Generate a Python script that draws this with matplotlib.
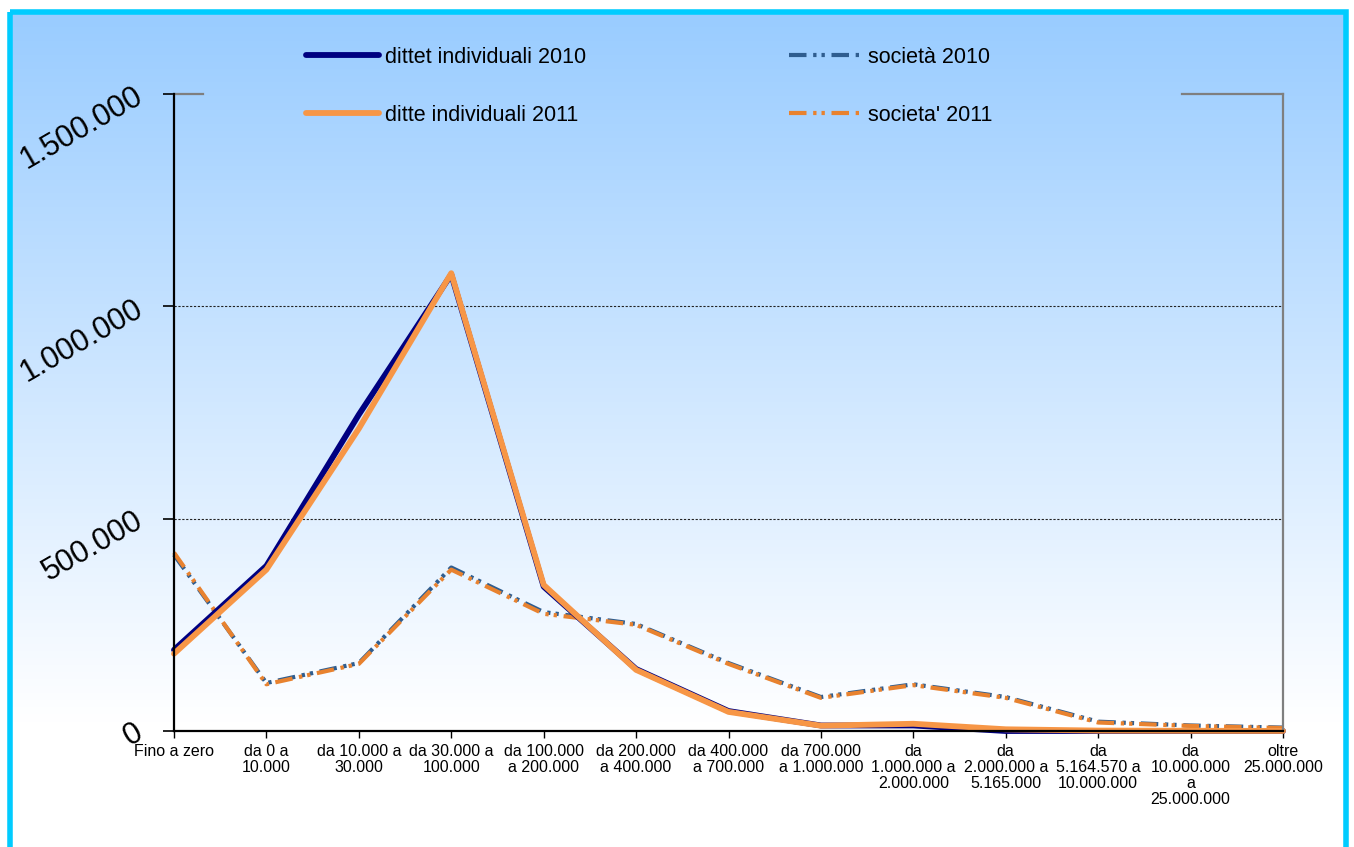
import numpy as np
import matplotlib
matplotlib.use("Agg")
import matplotlib.pyplot as plt
from matplotlib.patches import Rectangle
from matplotlib.ticker import FuncFormatter

plt.rcParams["font.family"] = ["Liberation Sans", "DejaVu Sans"]

W, H = 1354, 847

categories = [
    "Fino a zero",
    "da 0 a\n10.000",
    "da 10.000 a\n30.000",
    "da 30.000 a\n100.000",
    "da 100.000\na 200.000",
    "da 200.000\na 400.000",
    "da 400.000\na 700.000",
    "da 700.000\na 1.000.000",
    "da\n1.000.000 a\n2.000.000",
    "da\n2.000.000 a\n5.165.000",
    "da\n5.164.570 a\n10.000.000",
    "da\n10.000.000\na\n25.000.000",
    "oltre\n25.000.000",
]

ditte_2010 = [191000, 389000, 745000, 1075000, 340000, 146000, 47000,
              13000, 13000, 0, 0, 0, 0]
ditte_2011 = [182000, 380000, 712000, 1078000, 344000, 144000, 45000,
              12500, 17000, 4000, 1000, 500, 200]
societa_2010 = [415000, 113000, 160000, 385000, 280000, 252000, 160000,
                80000, 110000, 80000, 22000, 13000, 8000]
societa_2011 = [420000, 110000, 158000, 380000, 276000, 250000, 158000,
                78000, 108000, 78000, 20000, 12000, 7000]

y_ticks = [0, 500000, 1000000, 1500000]

fig = plt.figure(figsize=(W / 100, H / 100), dpi=100, facecolor="white")

# background: blue-to-white vertical gradient inside a cyan frame
bg = fig.add_axes([0, 0, 1, 1], zorder=-1)
bg.set_xlim(0, W)
bg.set_ylim(H, 0)
bg.axis("off")
top_col = np.array([153, 204, 255]) / 255
bot_col = np.array([255, 255, 255]) / 255
t = np.clip(np.linspace(0, 1, 400) / 0.82, 0, 1)[:, None]
grad = (top_col * (1 - t) + bot_col * t)[:, None, :]
bg.imshow(grad, extent=(9.5, W - 8.5, H + 30, 12.5), aspect="auto",
          interpolation="bilinear")
bg.add_patch(Rectangle((9.5, 12.5), W - 18, H + 40, fill=False,
                       edgecolor="#00CCFF", lw=4))

x0, x1, y_top, y_bot = 174, 1283, 94, 731
ax = fig.add_axes([x0 / W, 1 - y_bot / H, (x1 - x0) / W, (y_bot - y_top) / H])
ax.set_facecolor("none")

x = np.arange(len(categories))

dash_pat = (4.2, 1.6, 0.8, 1.2, 0.8, 1.6)
l_s10, = ax.plot(x, societa_2010, color="#2F5D8F", lw=3, clip_on=False)
l_s10.set_dashes(dash_pat)
l_s11, = ax.plot(x, societa_2011, color="#E8822F", lw=3, clip_on=False)
l_s11.set_dashes(dash_pat)
l_d10, = ax.plot(x, ditte_2010, color="#000080", lw=4.2, clip_on=False,
                 solid_capstyle="round")
l_d11, = ax.plot(x, ditte_2011, color="#F79646", lw=4.2, clip_on=False,
                 solid_capstyle="round")

ax.set_xlim(0, len(categories) - 1)
ax.set_ylim(0, 1500000)

for g in (500000, 1000000):
    ax.axhline(g, color="#222222", lw=0.8, ls=(0, (2, 1.5)), zorder=0.5)

# frame: black left/bottom, grey right, short grey stubs on top
for s in ("left", "bottom"):
    ax.spines[s].set_color("black")
    ax.spines[s].set_linewidth(1.6)
ax.spines["top"].set_visible(False)
ax.spines["right"].set_color("#7F7F7F")
ax.spines["right"].set_linewidth(1.6)
ax.axhline(1500000, xmin=0, xmax=0.026, color="#7F7F7F", lw=1.6, clip_on=False)
ax.axhline(1500000, xmin=0.909, xmax=1, color="#7F7F7F", lw=1.6, clip_on=False)

ax.set_xticks(x)
ax.set_xticklabels(categories, fontsize=11.5, linespacing=1.1)
ax.tick_params(axis="x", length=5, width=1, pad=4)

ax.set_yticks(y_ticks)
ax.yaxis.set_major_formatter(FuncFormatter(lambda v, p: f"{v:,.0f}".replace(",", ".")))
ax.tick_params(axis="y", length=8, width=1.2, pad=16, labelsize=22)
for lbl in ax.get_yticklabels():
    lbl.set_rotation(30)
    lbl.set_rotation_mode("anchor")
    lbl.set_ha("right")
    lbl.set_va("center")

fig.legend([l_d10, l_d11, l_s10, l_s11],
           ["dittet individuali 2010", "ditte individuali 2011",
            "società 2010", "societa' 2011"],
           ncol=2, frameon=False, fontsize=15.5,
           loc="upper left", bbox_to_anchor=(306 / W, 1 - 47 / H),
           borderpad=0, borderaxespad=0, handlelength=3.4, handletextpad=0.25,
           columnspacing=9.45, labelspacing=1.7)

fig.savefig("out.png", dpi=100, facecolor="white")
